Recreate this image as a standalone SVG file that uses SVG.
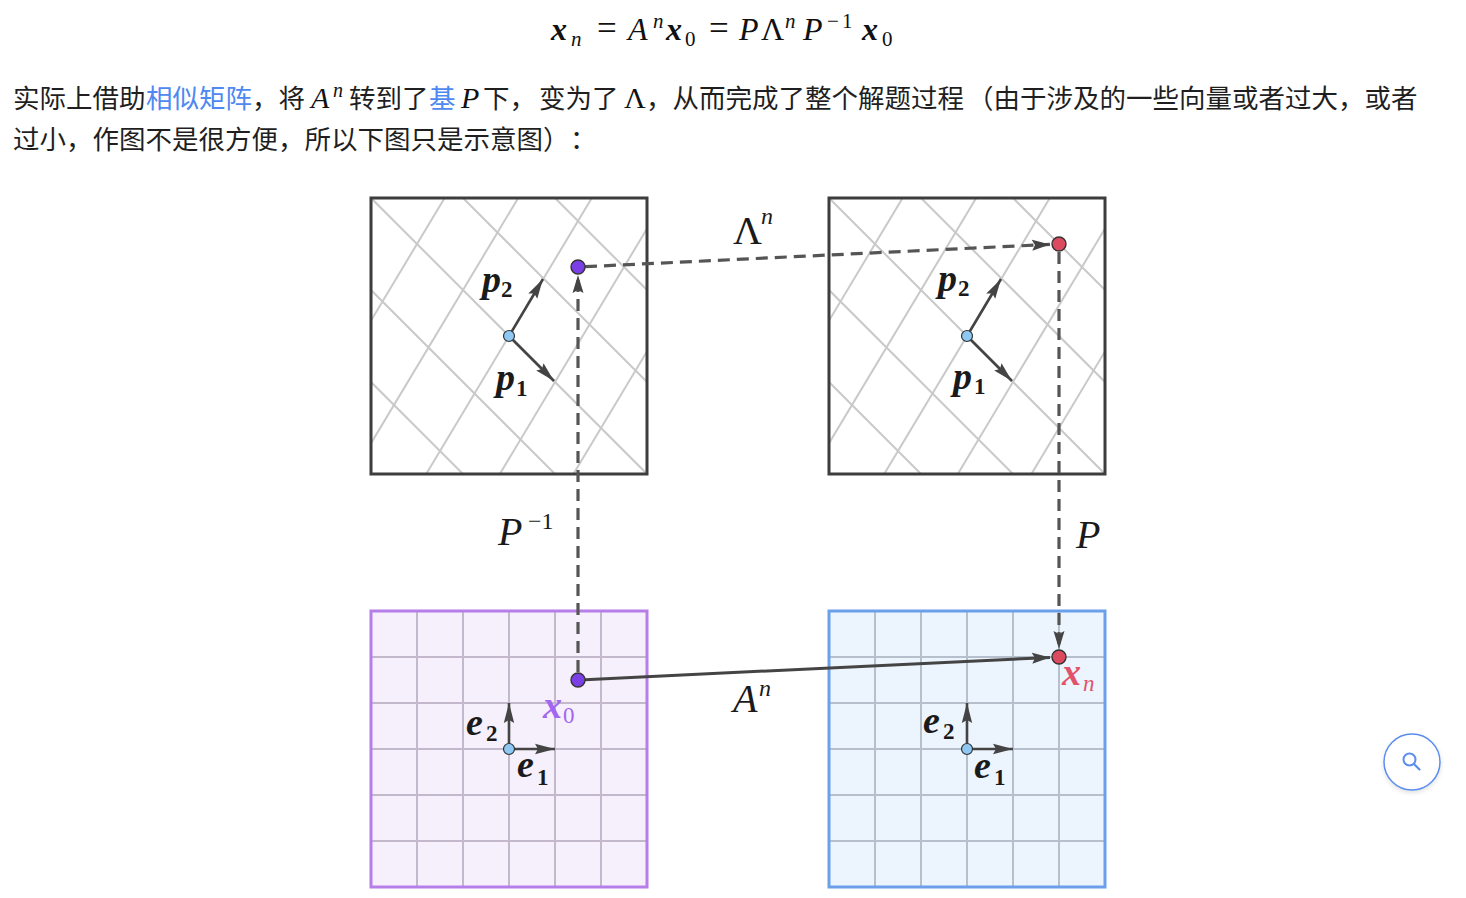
<svg xmlns="http://www.w3.org/2000/svg" width="1466" height="898" viewBox="0 0 1466 898">
<style>
.cjk{font-family:"Noto Sans CJK SC","Noto Sans",sans-serif;font-size:26.5px;fill:#1f1f1f}
.link{fill:#4e88f0}
.m{font-family:"Liberation Serif","DejaVu Serif",serif;fill:#111}
.mi{font-style:italic}
.mb{font-style:italic;font-weight:bold}
.lbl{font-family:"Liberation Serif","DejaVu Serif",serif;font-style:italic;font-weight:bold;font-size:38px;fill:#1a1a1a}
.subb{font-family:"Liberation Serif","DejaVu Serif",serif;font-weight:bold;font-size:23px;fill:#1a1a1a}
.sub{font-family:"Liberation Serif","DejaVu Serif",serif;font-size:23px}
.big{font-family:"Liberation Serif","DejaVu Serif",serif;font-size:40px;fill:#1a1a1a}
.sup{font-family:"Liberation Serif","DejaVu Serif",serif;font-size:24px;fill:#1a1a1a}
.sk{stroke:#c9c9c9;stroke-width:2;fill:none}
.frame{fill:none;stroke:#3d3d3d;stroke-width:3}
.vec{stroke:#444;stroke-width:2.6;fill:none}
.dash{stroke:#555;stroke-width:3.2;fill:none;stroke-dasharray:12 7}
.solid{stroke:#444;stroke-width:3;fill:none}
.o{fill:#8ec8f2;stroke:#333;stroke-width:1.2}
.pu{fill:#7b3fe6;stroke:#333;stroke-width:1.4}
.rd{fill:#dc4a60;stroke:#333;stroke-width:1.4}
</style>
<defs>
<marker id="ah" markerUnits="userSpaceOnUse" markerWidth="20" markerHeight="12" refX="18" refY="6" orient="auto">
<path d="M0,0.5 L18,6 L0,11.5 L3,6 Z" fill="#444" stroke="none"/>
</marker>
<marker id="av" markerUnits="userSpaceOnUse" markerWidth="22" markerHeight="12" refX="20" refY="6" orient="auto">
<path d="M0,0.8 L20,6 L0,11.2 L3,6 Z" fill="#444" stroke="none"/>
</marker>
<clipPath id="clipTop"><rect x="371" y="198" width="276" height="276"/></clipPath>
<g id="skewGrid">
<g clip-path="url(#clipTop)" class="sk">
<line x1="371" y1="382" x2="647" y2="658"/>
<line x1="371" y1="290" x2="647" y2="566"/>
<line x1="371" y1="198" x2="647" y2="474"/>
<line x1="371" y1="106" x2="647" y2="382"/>
<line x1="371" y1="14" x2="647" y2="290"/>
<line x1="444.6" y1="198" x2="278.9" y2="474"/>
<line x1="518.2" y1="198" x2="352.5" y2="474"/>
<line x1="591.8" y1="198" x2="426.2" y2="474"/>
<line x1="665.4" y1="198" x2="499.8" y2="474"/>
<line x1="739" y1="198" x2="573.4" y2="474"/>
</g>
</g>
<filter id="sh" x="-30%" y="-30%" width="160%" height="160%">
<feDropShadow dx="0" dy="2" stdDeviation="2" flood-color="#000" flood-opacity="0.12"/>
</filter>
</defs>
<rect width="1466" height="898" fill="#ffffff"/>

<g id="formula" class="m" font-size="32">
<text x="551" y="40" class="mb">x</text>
<text x="571" y="46" class="mi" font-size="21">n</text>
<text x="597" y="40" font-size="35">=</text>
<text x="628" y="40" class="mi">A</text>
<text x="653" y="28" class="mi" font-size="21">n</text>
<text x="666" y="40" class="mb">x</text>
<text x="685" y="46" font-size="21">0</text>
<text x="709" y="40" font-size="35">=</text>
<text x="739" y="40" class="mi">P</text>
<text x="761" y="40">Λ</text>
<text x="785" y="28" class="mi" font-size="21">n</text>
<text x="803" y="40" class="mi">P</text>
<text x="827" y="28" font-size="21">−</text>
<text x="842" y="28" font-size="21">1</text>
<text x="862" y="40" class="mb">x</text>
<text x="882" y="46" font-size="21">0</text>
</g>

<g id="paragraph">
<text class="cjk" x="13" y="108">实际上借助</text>
<text class="cjk link" x="146" y="108">相似矩阵</text>
<text class="cjk" x="252" y="108">，将</text>
<text class="m mi" x="311" y="108" font-size="30">A</text>
<text class="m mi" x="333" y="97" font-size="20">n</text>
<text class="cjk" x="349" y="108">转到了</text>
<text class="cjk link" x="429" y="108">基</text>
<text class="m mi" x="461" y="108" font-size="30">P</text>
<text class="cjk" x="483" y="108">下，</text>
<text class="cjk" x="539" y="108">变为了</text>
<text class="m" x="624" y="108" font-size="30">Λ</text>
<text class="cjk" x="646" y="108">，从而完成了整个解题过程</text>
<text class="cjk" x="967" y="108">（由于涉及的一些向量或者过大，或者</text>
<text class="cjk" x="13" y="149">过小，作图不是很方便，所以下图只是示意图</text>
<text class="cjk" x="543" y="149">）</text>
<text class="cjk" x="570" y="149">：</text>
</g>

<g id="box-top-left">
<rect x="371" y="198" width="276" height="276" fill="#fff"/>
<use href="#skewGrid"/>
<rect x="371" y="198" width="276" height="276" class="frame"/>
<line x1="509" y1="336" x2="554" y2="381" class="vec" marker-end="url(#av)"/>
<line x1="509" y1="336" x2="543" y2="279" class="vec" marker-end="url(#av)"/>
<circle cx="509" cy="336" r="5.5" class="o"/>
<text class="lbl" x="482" y="292">p</text><text class="subb" x="501" y="297">2</text>
<text class="lbl" x="496" y="390">p</text><text class="subb" x="516" y="396">1</text>
</g>

<g id="box-top-right">
<rect x="829" y="198" width="276" height="276" fill="#fff"/>
<use href="#skewGrid" transform="translate(458,0)"/>
<rect x="829" y="198" width="276" height="276" class="frame"/>
<line x1="967" y1="336" x2="1012" y2="381" class="vec" marker-end="url(#av)"/>
<line x1="967" y1="336" x2="1001" y2="279" class="vec" marker-end="url(#av)"/>
<circle cx="967" cy="336" r="5.5" class="o"/>
<text class="lbl" x="938" y="291">p</text><text class="subb" x="958" y="296">2</text>
<text class="lbl" x="953" y="389">p</text><text class="subb" x="974" y="394">1</text>
</g>

<g id="box-bottom-left">
<rect x="371" y="611" width="276" height="276" fill="#f6effc"/>
<g stroke="#c4b8cd" stroke-width="2">
<line x1="417" y1="611" x2="417" y2="887"/><line x1="463" y1="611" x2="463" y2="887"/><line x1="509" y1="611" x2="509" y2="887"/><line x1="555" y1="611" x2="555" y2="887"/><line x1="601" y1="611" x2="601" y2="887"/>
<line x1="371" y1="657" x2="647" y2="657"/><line x1="371" y1="703" x2="647" y2="703"/><line x1="371" y1="749" x2="647" y2="749"/><line x1="371" y1="795" x2="647" y2="795"/><line x1="371" y1="841" x2="647" y2="841"/>
</g>
<rect x="371" y="611" width="276" height="276" fill="none" stroke="#b67fe8" stroke-width="3"/>
<line x1="509" y1="749" x2="555" y2="749" class="vec" marker-end="url(#av)"/>
<line x1="509" y1="749" x2="509" y2="703" class="vec" marker-end="url(#av)"/>
<circle cx="509" cy="749" r="5.5" class="o"/>
<text class="lbl" x="466" y="735">e</text><text class="subb" x="486" y="741">2</text>
<text class="lbl" x="517" y="777">e</text><text class="subb" x="537" y="785">1</text>
<text class="lbl" x="543" y="718" style="fill:#a366f0">x</text><text class="sub" x="563" y="723" fill="#a366f0">0</text>
</g>

<g id="box-bottom-right">
<rect x="829" y="611" width="276" height="276" fill="#ecf4fd"/>
<g stroke="#b6c0cc" stroke-width="2">
<line x1="875" y1="611" x2="875" y2="887"/><line x1="921" y1="611" x2="921" y2="887"/><line x1="967" y1="611" x2="967" y2="887"/><line x1="1013" y1="611" x2="1013" y2="887"/><line x1="1059" y1="611" x2="1059" y2="887"/>
<line x1="829" y1="657" x2="1105" y2="657"/><line x1="829" y1="703" x2="1105" y2="703"/><line x1="829" y1="749" x2="1105" y2="749"/><line x1="829" y1="795" x2="1105" y2="795"/><line x1="829" y1="841" x2="1105" y2="841"/>
</g>
<rect x="829" y="611" width="276" height="276" fill="none" stroke="#6b9fea" stroke-width="3"/>
<line x1="967" y1="749" x2="1013" y2="749" class="vec" marker-end="url(#av)"/>
<line x1="967" y1="749" x2="967" y2="703" class="vec" marker-end="url(#av)"/>
<circle cx="967" cy="749" r="5.5" class="o"/>
<text class="lbl" x="923" y="733">e</text><text class="subb" x="943" y="739">2</text>
<text class="lbl" x="974" y="778">e</text><text class="subb" x="994" y="785">1</text>
<text class="lbl" x="1062" y="685" style="fill:#e0536b">x</text><text class="sub" x="1083" y="691" font-style="italic" fill="#e0536b">n</text>
</g>

<g id="connectors">
<line x1="585" y1="266.7" x2="1050" y2="244.4" class="dash" marker-end="url(#ah)"/>
<line x1="578" y1="672" x2="578" y2="275" class="dash" marker-end="url(#ah)"/>
<line x1="1059" y1="252" x2="1059" y2="649" class="dash" marker-end="url(#ah)"/>
<line x1="585" y1="679.7" x2="1050" y2="657.4" class="solid" marker-end="url(#ah)"/>
</g>

<g id="points">
<circle cx="578" cy="267" r="7" class="pu"/>
<circle cx="578" cy="680" r="7" class="pu"/>
<circle cx="1059" cy="244" r="7" class="rd"/>
<circle cx="1059" cy="657" r="7" class="rd"/>
</g>

<g id="edge-labels">
<text class="big" x="733" y="244">Λ</text><text class="sup" font-style="italic" x="761" y="224">n</text>
<text class="big" font-style="italic" x="733" y="712">A</text><text class="sup" font-style="italic" x="759" y="696">n</text>
<text class="big" font-style="italic" x="498" y="545">P</text><text class="sup" x="528" y="529">−1</text>
<text class="big" font-style="italic" x="1076" y="548">P</text>
</g>

<g id="search-btn">
<circle cx="1412" cy="762" r="28" fill="#fff" stroke="#5b8def" stroke-width="1.5" filter="url(#sh)"/>
<circle cx="1409.5" cy="759.5" r="6" fill="none" stroke="#5b8def" stroke-width="2"/>
<line x1="1414" y1="764" x2="1419.5" y2="769.5" stroke="#5b8def" stroke-width="2.2" stroke-linecap="round"/>
</g>
</svg>
